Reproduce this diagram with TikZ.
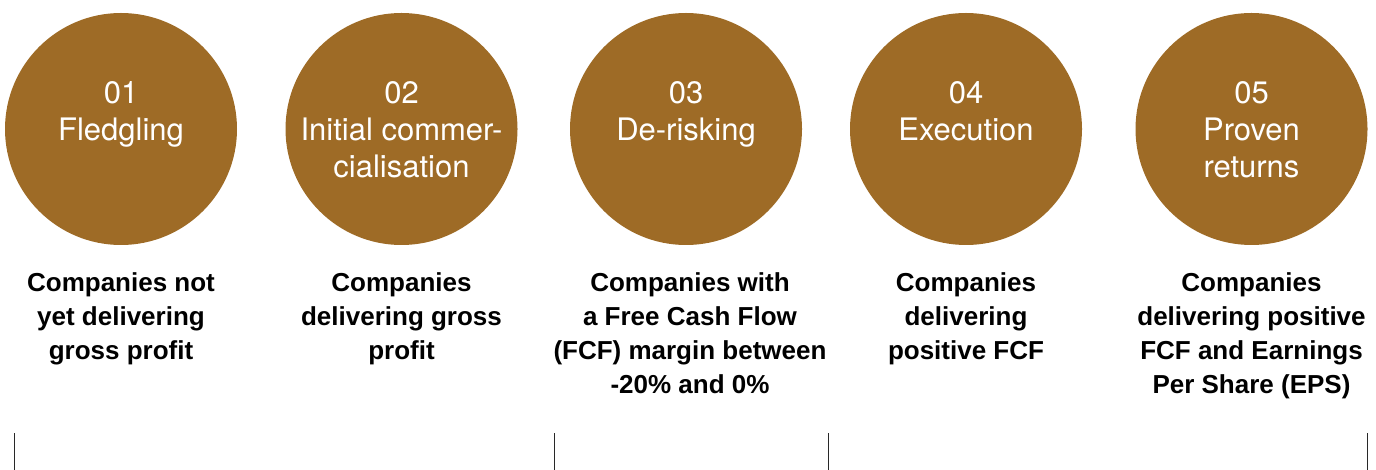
\documentclass[tikz,border=0pt]{standalone}
\usepackage{fontspec}
\setmainfont{TeX Gyre Heros}
\newfontfamily\boldsans{Liberation Sans}
\definecolor{stagebrown}{RGB}{158,107,38}
\definecolor{rulegrey}{RGB}{40,40,40}
\begin{document}
\begin{tikzpicture}[x=1pt,y=-1pt,
  stagedisc/.style={circle,fill=stagebrown,draw=none,minimum size=232pt,inner sep=0pt},
  stagename/.style={anchor=north,align=center,text=white,inner sep=0pt,
    font=\fontsize{31}{37}\selectfont},
  stagedesc/.style={anchor=north,align=center,text=black,inner sep=0pt,
    font=\boldsans\bfseries\fontsize{26}{34}\selectfont},
  divider/.style={draw=rulegrey,line width=0.9pt}]
\useasboundingbox (0,0) rectangle (1376,470);

% the five stage discs
\node[stagedisc] (d1) at (121,129) {};
\node[stagedisc] (d2) at (401.5,129) {};
\node[stagedisc] (d3) at (686,129) {};
\node[stagedisc] (d4) at (966,129) {};
\node[stagedisc] (d5) at (1251.5,129) {};

% stage numbers and names (first baseline at y=103)
\node[stagename] (n1) at (121,77) {\strut 01\\Fledgling};
\node[stagename] (n2) at (401.5,77) {\strut 02\\Initial commer-\\cialisation};
\node[stagename] (n3) at (686,77) {\strut 03\\De-risking};
\node[stagename] (n4) at (966,77) {\strut 04\\Execution};
\node[stagename] (n5) at (1251.5,77) {\strut 05\\Proven\\returns};

% descriptions below the discs
\node[stagedesc] (t1) at (121,267) {\strut Companies not\\yet delivering\\gross profit};
\node[stagedesc] (t2) at (401.5,267) {\strut Companies\\delivering gross\\profit};
\node[stagedesc] (t3) at (690,267) {\strut Companies with\\a Free Cash Flow\\(FCF) margin between\\-20\% and 0\%};
\node[stagedesc] (t4) at (966,267) {\strut Companies\\delivering\\positive FCF};
\node[stagedesc] (t5) at (1251.5,267) {\strut Companies\\delivering positive\\FCF and Earnings\\Per Share (EPS)};

% short vertical rules along the bottom edge
\coordinate (r1a) at (14.5,433);   \coordinate (r1b) at (14.5,470);
\coordinate (r2a) at (554,433);    \coordinate (r2b) at (554,470);
\coordinate (r3a) at (828.5,433);  \coordinate (r3b) at (828.5,470);
\coordinate (r4a) at (1367.5,433); \coordinate (r4b) at (1367.5,470);
\draw[divider] (r1a) -- (r1b);
\draw[divider] (r2a) -- (r2b);
\draw[divider] (r3a) -- (r3b);
\draw[divider] (r4a) -- (r4b);
\end{tikzpicture}
\end{document}
